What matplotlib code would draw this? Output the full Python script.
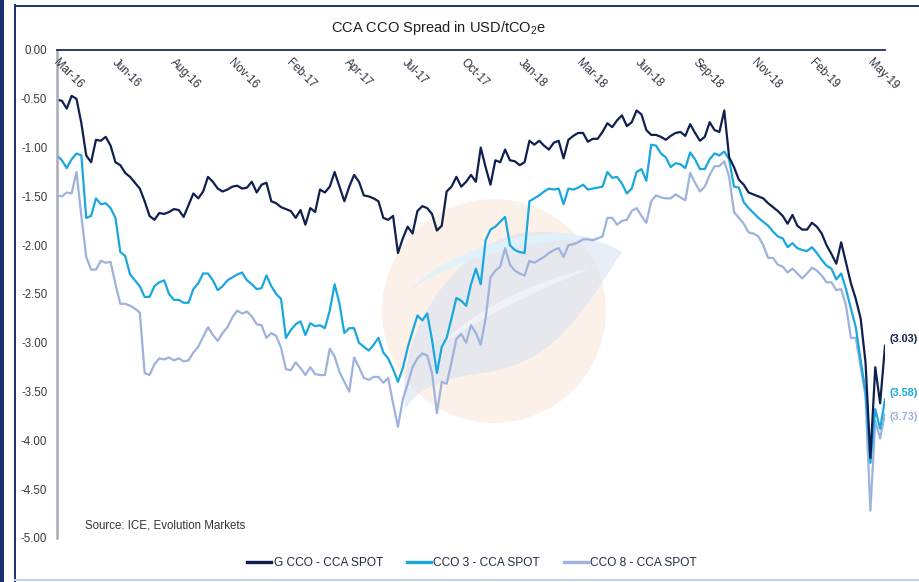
#!/usr/bin/env python3
"""CCA CCO spread in USD/tCO2e, weekly values Mar-16 to May-19."""

import matplotlib
matplotlib.use("Agg")
import matplotlib.pyplot as plt
from matplotlib.lines import Line2D
from matplotlib.patches import Circle, PathPatch, Rectangle
from matplotlib.path import Path
from matplotlib.ticker import FormatStrFormatter
from matplotlib.transforms import offset_copy
import numpy as np
import pandas as pd

plt.rcParams["font.family"] = ["Liberation Sans", "DejaVu Sans"]
plt.rcParams["axes.unicode_minus"] = False
plt.rcParams["mathtext.fontset"] = "custom"
plt.rcParams["mathtext.rm"] = "Liberation Sans"
plt.rcParams["mathtext.default"] = "regular"

START = "2016-03-15"  # first weekly observation

TICK_LABELS = [
    "Mar-16", "Jun-16", "Aug-16", "Nov-16", "Feb-17", "Apr-17", "Jul-17", "Oct-17",
    "Jan-18", "Mar-18", "Jun-18", "Sep-18", "Nov-18", "Feb-19", "May-19",
]

G_CCO = [
    -0.51, -0.52, -0.60, -0.47, -0.50, -0.75, -1.08, -1.15, -0.92, -0.93,
    -0.89, -0.98, -1.15, -1.18, -1.26, -1.30, -1.36, -1.42, -1.55, -1.70,
    -1.74, -1.67, -1.68, -1.66, -1.63, -1.64, -1.71, -1.59, -1.47, -1.52,
    -1.45, -1.30, -1.35, -1.42, -1.45, -1.43, -1.40, -1.39, -1.42, -1.41,
    -1.35, -1.46, -1.38, -1.36, -1.55, -1.57, -1.61, -1.63, -1.65, -1.72,
    -1.64, -1.79, -1.62, -1.66, -1.43, -1.46, -1.40, -1.25, -1.40, -1.55,
    -1.40, -1.28, -1.35, -1.49, -1.50, -1.52, -1.55, -1.72, -1.74, -1.70,
    -2.08, -1.93, -1.81, -1.88, -1.65, -1.60, -1.62, -1.68, -1.85, -1.80,
    -1.45, -1.40, -1.30, -1.40, -1.35, -1.28, -1.35, -1.00, -1.20, -1.38,
    -1.13, -1.15, -1.02, -1.13, -1.14, -1.18, -1.15, -0.93, -0.97, -0.93,
    -0.98, -1.02, -0.95, -0.93, -1.11, -0.92, -0.88, -0.85, -0.85, -0.94,
    -0.91, -0.91, -0.84, -0.75, -0.79, -0.72, -0.67, -0.78, -0.74, -0.62,
    -0.66, -0.82, -0.87, -0.87, -0.89, -0.92, -0.88, -0.85, -0.84, -0.88,
    -0.76, -0.85, -0.93, -0.89, -0.74, -0.82, -0.84, -0.62, -1.10, -1.20,
    -1.33, -1.38, -1.46, -1.48, -1.50, -1.52, -1.57, -1.61, -1.65, -1.70,
    -1.78, -1.69, -1.80, -1.84, -1.84, -1.77, -1.81, -1.88, -2.00, -2.09,
    -2.19, -1.97, -2.18, -2.39, -2.55, -2.75, -3.20, -4.18, -3.25, -3.62,
    -3.03,
]

CCO_3 = [
    -1.08, -1.13, -1.21, -1.12, -1.06, -1.08, -1.72, -1.70, -1.52, -1.58,
    -1.57, -1.62, -1.72, -2.07, -2.11, -2.30, -2.36, -2.42, -2.53, -2.53,
    -2.42, -2.38, -2.36, -2.50, -2.56, -2.56, -2.59, -2.59, -2.45, -2.39,
    -2.29, -2.29, -2.36, -2.46, -2.42, -2.36, -2.33, -2.30, -2.28, -2.36,
    -2.40, -2.45, -2.44, -2.31, -2.42, -2.50, -2.55, -2.95, -2.87, -2.81,
    -2.78, -2.92, -2.80, -2.83, -2.82, -2.85, -2.67, -2.40, -2.60, -2.90,
    -2.85, -2.85, -3.00, -3.04, -3.08, -3.02, -2.95, -3.10, -3.16, -3.27,
    -3.40, -3.26, -3.05, -2.88, -2.72, -2.77, -2.70, -2.97, -3.31, -3.04,
    -2.95, -2.75, -2.54, -2.57, -2.62, -2.40, -2.24, -2.40, -1.95, -1.84,
    -1.81, -1.76, -1.71, -2.00, -2.05, -2.07, -2.08, -1.55, -1.52, -1.49,
    -1.45, -1.42, -1.43, -1.42, -1.58, -1.42, -1.43, -1.41, -1.38, -1.43,
    -1.42, -1.41, -1.40, -1.25, -1.31, -1.30, -1.37, -1.47, -1.42, -1.25,
    -1.22, -1.34, -0.97, -0.98, -1.06, -1.10, -1.20, -1.16, -1.17, -1.21,
    -1.05, -1.12, -1.22, -1.22, -1.12, -1.06, -1.08, -1.04, -1.12, -1.40,
    -1.41, -1.56, -1.62, -1.67, -1.72, -1.76, -1.80, -1.86, -1.91, -1.93,
    -2.02, -1.98, -2.03, -2.05, -2.06, -2.02, -2.08, -2.15, -2.21, -2.24,
    -2.35, -2.29, -2.45, -2.65, -2.84, -3.18, -3.50, -4.23, -3.68, -3.88,
    -3.58,
]

CCO_8 = [
    -1.49, -1.50, -1.46, -1.47, -1.25, -1.70, -2.12, -2.25, -2.25, -2.16,
    -2.18, -2.17, -2.40, -2.60, -2.60, -2.62, -2.65, -2.69, -3.31, -3.33,
    -3.22, -3.16, -3.17, -3.15, -3.18, -3.16, -3.19, -3.18, -3.10, -3.04,
    -2.94, -2.84, -2.92, -2.98, -2.90, -2.84, -2.74, -2.67, -2.70, -2.68,
    -2.73, -2.81, -2.82, -2.95, -2.90, -2.93, -3.05, -3.27, -3.28, -3.20,
    -3.26, -3.33, -3.25, -3.32, -3.33, -3.33, -3.06, -3.14, -3.30, -3.40,
    -3.50, -3.15, -3.25, -3.36, -3.38, -3.35, -3.35, -3.41, -3.36, -3.62,
    -3.86, -3.58, -3.42, -3.25, -3.16, -3.11, -3.13, -3.31, -3.72, -3.40,
    -3.42, -3.20, -2.96, -2.91, -3.00, -2.82, -2.90, -3.02, -2.75, -2.33,
    -2.26, -2.22, -2.03, -2.20, -2.26, -2.29, -2.31, -2.16, -2.18, -2.15,
    -2.12, -2.08, -2.05, -2.03, -2.12, -2.00, -1.99, -1.97, -1.94, -1.94,
    -1.95, -1.93, -1.91, -1.72, -1.72, -1.79, -1.75, -1.74, -1.65, -1.62,
    -1.70, -1.77, -1.55, -1.49, -1.51, -1.52, -1.52, -1.48, -1.51, -1.54,
    -1.26, -1.36, -1.45, -1.40, -1.28, -1.19, -1.19, -1.14, -1.30, -1.66,
    -1.72, -1.78, -1.87, -1.88, -1.91, -2.00, -2.13, -2.13, -2.20, -2.22,
    -2.28, -2.24, -2.29, -2.34, -2.29, -2.23, -2.26, -2.31, -2.38, -2.38,
    -2.46, -2.45, -2.62, -2.95, -2.95, -3.25, -3.55, -4.72, -3.80, -3.98,
    -3.73,
]

NAVY = "#0f1f4f"
CYAN = "#19a7df"
LAVENDER = "#9db2dc"
FRAME = "#1c2f6e"
TEXT = "#2b2f3f"

# name, values, colour, vertical offset of the end label (points)
SERIES = [
    ("G CCO - CCA SPOT", G_CCO, NAVY, 4.5),
    ("CCO 3 - CCA SPOT", CCO_3, CYAN, 4.5),
    ("CCO 8 - CCA SPOT", CCO_8, LAVENDER, -2.0),
]

W, H = 920, 582


def draw_background(fig):
    bg = fig.add_axes([0, 0, 1, 1], zorder=0)
    bg.set_xlim(0, W)
    bg.set_ylim(H, 0)
    bg.axis("off")

    # page frame
    bg.add_patch(Rectangle((0, 0), 4.5, H, color=FRAME, lw=0))
    bg.plot([15.5, 15.5], [5, H], color=FRAME, lw=1.4)
    bg.plot([15, W], [5.5, 5.5], color=FRAME, lw=1.4)
    bg.plot([15, W], [580, 580], color="#b8d2e8", lw=1.4)

    # faint logo watermark: peach disc with a pale blue leaf
    bg.add_patch(Circle((494, 311), 112, facecolor="#fbe4d3", edgecolor="none", alpha=0.5))
    C4 = Path.CURVE4
    leaf = Path(
        [(405, 410), (395, 320), (470, 235), (530, 232),
         (575, 230), (605, 242), (622, 252),
         (590, 300), (560, 360), (490, 372),
         (445, 378), (420, 385), (405, 410)],
        [Path.MOVETO, C4, C4, C4, C4, C4, C4, C4, C4, C4, C4, C4, C4],
    )
    bg.add_patch(PathPatch(leaf, facecolor="#dae3f3", edgecolor="none", alpha=0.6))
    band = Path(
        [(410, 290), (450, 248), (540, 222), (602, 240),
         (540, 236), (460, 256), (410, 290)],
        [Path.MOVETO, C4, C4, C4, C4, C4, C4],
    )
    bg.add_patch(PathPatch(band, facecolor="#dff2fb", edgecolor="none", alpha=0.9))
    stripe = Path(
        [(440, 345), (480, 305), (540, 280), (590, 268),
         (540, 290), (490, 312), (440, 345)],
        [Path.MOVETO, C4, C4, C4, C4, C4, C4],
    )
    bg.add_patch(PathPatch(stripe, facecolor="white", edgecolor="none", alpha=0.45))


def main() -> None:
    fig = plt.figure(figsize=(W / 100, H / 100), dpi=100)
    fig.patch.set_facecolor("white")
    draw_background(fig)

    dates = pd.date_range(START, periods=len(G_CCO), freq="7D")
    tick_dates = pd.Timestamp(START) + pd.to_timedelta(np.arange(len(TICK_LABELS)) * 83.5, unit="D")

    ax = fig.add_axes([57 / W, 44 / H, 828 / W, 488 / H], zorder=1)
    ax.patch.set_alpha(0)

    for name, values, color, _ in reversed(SERIES):
        ax.plot(dates, values, color=color, lw=1.6, solid_joinstyle="round")

    ax.set_xlim(dates[0], dates[-1])
    ax.set_ylim(-5, 0)
    ax.set_yticks(np.arange(-5, 0.01, 0.5))
    ax.yaxis.set_major_formatter(FormatStrFormatter("%.2f"))
    ax.tick_params(axis="y", length=0, pad=7, labelsize=8.3, labelcolor="#3a3a3a")
    ax.set_xticks([])

    for side in ("right", "bottom"):
        ax.spines[side].set_visible(False)
    ax.spines["top"].set_color("#1f2b5b")
    ax.spines["top"].set_linewidth(1.3)
    ax.spines["left"].set_color("#a9acb6")
    ax.spines["left"].set_linewidth(1.8)

    # date labels hang below the zero line, rotated
    label_tf = offset_copy(ax.transData, fig=fig, x=2.0, y=-5, units="points")
    for when, label in zip(tick_dates, TICK_LABELS):
        ax.text(when, 0, label, transform=label_tf, rotation=-45, rotation_mode="anchor",
                ha="left", va="top", fontsize=8.3, color=TEXT, clip_on=False)

    for name, values, color, dy in SERIES:
        ax.annotate(f"({abs(values[-1]):.2f})", xy=(dates[-1], values[-1]),
                    xytext=(3.5, dy), textcoords="offset points", ha="left", va="center",
                    fontsize=7.8, fontweight="bold", color=color, annotation_clip=False)

    fig.text(438 / W, 1 - 28 / H, "CCA CCO Spread in USD/tCO$_2$e", ha="center", va="center",
             fontsize=10.5, color="#1e1e1e")
    fig.text(85 / W, 1 - 525 / H, "Source: ICE, Evolution Markets", ha="left", va="center",
             fontsize=8.3, color="#333333")

    handles = [Line2D([], [], color=color, lw=2.4) for _, _, color, _ in SERIES]
    legend = fig.legend(handles, [s[0] for s in SERIES], loc="center",
                        bbox_to_anchor=(472 / W, 1 - 563 / H), ncol=3, frameon=False,
                        fontsize=8.6, handlelength=2.0, handletextpad=0.2, columnspacing=2.0)
    for text in legend.get_texts():
        text.set_color("#1f2a44")

    fig.savefig("out.png", dpi=100, facecolor="white")
    plt.close(fig)


if __name__ == "__main__":
    main()
